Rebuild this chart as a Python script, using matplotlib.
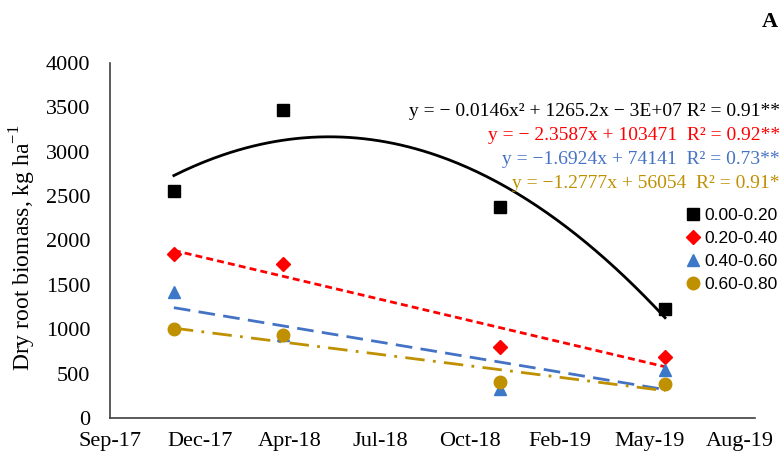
import matplotlib
matplotlib.use('Agg')
import matplotlib.pyplot as plt
import numpy as np

plt.rcParams['font.family'] = ['Liberation Serif', 'DejaVu Serif']
plt.rcParams['mathtext.fontset'] = 'custom'
plt.rcParams['mathtext.rm'] = 'Liberation Serif'

# sampling dates as Excel serial numbers
dates = [43071, 43192, 43434, 43617]
depth_labels = ['0.00-0.20', '0.20-0.40', '0.40-0.60', '0.60-0.80']
biomass_0_20 = [2555, 3470, 2375, 1230]
biomass_20_40 = [1850, 1740, 800, 690]
biomass_40_60 = [1420, 940, 330, 540]   # Apr-18 point hidden behind the circle
biomass_60_80 = [1000, 930, 410, 380]

x_ticks = [43000, 43100, 43200, 43300, 43400, 43500, 43600, 43700]
x_tick_labels = ['Sep-17', 'Dec-17', 'Apr-18', 'Jul-18', 'Oct-18', 'Feb-19', 'May-19', 'Aug-19']

equations = [
    'y = − 0.0146x² + 1265.2x − 3E+07 R² = 0.91**',
    'y = − 2.3587x + 103471  R² = 0.92**',
    'y = −1.6924x + 74141  R² = 0.73**',
    'y = −1.2777x + 56054  R² = 0.91*',
]

series = [biomass_0_20, biomass_20_40, biomass_40_60, biomass_60_80]
colors = ['#000000', '#FF0000', '#4472C4', '#BF9000']
marker_colors = ['#000000', '#FF0000', '#3C78C8', '#BF9000']
markers = ['s', 'D', '^', 'o']
msizes = [9, 7, 9, 9]
zorders = [3, 3, 3, 4]
degrees = [2, 1, 1, 1]
styles = ['-', (0, (2.5, 1.5)), (0, (6, 3)), (0, (7, 3, 1, 3))]

fig = plt.figure(figsize=(7.84, 4.57), dpi=100)
ax = fig.add_axes([110 / 784, 39 / 457, 645 / 784, 355 / 457])

for vals, c, mc, m, ms, z, deg, ls, lab in zip(series, colors, marker_colors, markers,
                                                msizes, zorders, degrees, styles, depth_labels):
    xs = np.array(dates, dtype=float)
    ys = np.array(vals, dtype=float)
    ax.plot(xs, ys, linestyle='none', marker=m, color=mc, markersize=ms,
            label=lab, zorder=z)
    # trend line like Excel
    xc = xs - xs.mean()
    coef = np.polyfit(xc, ys, deg)
    xf = np.linspace(dates[0], dates[-1], 200)
    ax.plot(xf, np.polyval(coef, xf - xs.mean()), color=c, linestyle=ls,
            linewidth=2, zorder=2)

ax.set_xlim(43000, 43717)
ax.set_ylim(0, 4000)
ax.set_xticks(x_ticks)
ax.set_xticklabels(x_tick_labels)
ax.set_yticks(range(0, 4001, 500))
ax.tick_params(length=0, labelsize=16)
ax.tick_params(axis='x', pad=10)
ax.tick_params(axis='y', pad=14)
ax.set_ylabel('Dry root biomass, kg ha$^{\\mathrm{-1}}$', fontsize=17)
ax.yaxis.set_label_coords(-0.112, 0.479)
for s in ['top', 'right']:
    ax.spines[s].set_visible(False)
for s in ['left', 'bottom']:
    ax.spines[s].set_color('#404040')
    ax.spines[s].set_linewidth(1.2)

eq_y = [112, 136, 159, 184]
for txt, c, yp in zip(equations, colors, eq_y):
    fig.text(780 / 784, 1 - yp / 457, txt, color=c, fontsize=14,
             ha='right', va='center')

ax.legend(loc='upper left', bbox_to_anchor=(685 / 784, 1 - 208 / 457),
          bbox_transform=fig.transFigure, frameon=False,
          prop={'family': 'Liberation Sans', 'size': 12.5},
          handletextpad=0.2, labelspacing=0.45, handlelength=0.9,
          borderaxespad=0, borderpad=0)

fig.text(778 / 784, 1 - 22 / 457, 'A', fontsize=16, fontweight='bold',
         ha='right', va='center')

fig.savefig('out.png', dpi=100)
plt.close(fig)
